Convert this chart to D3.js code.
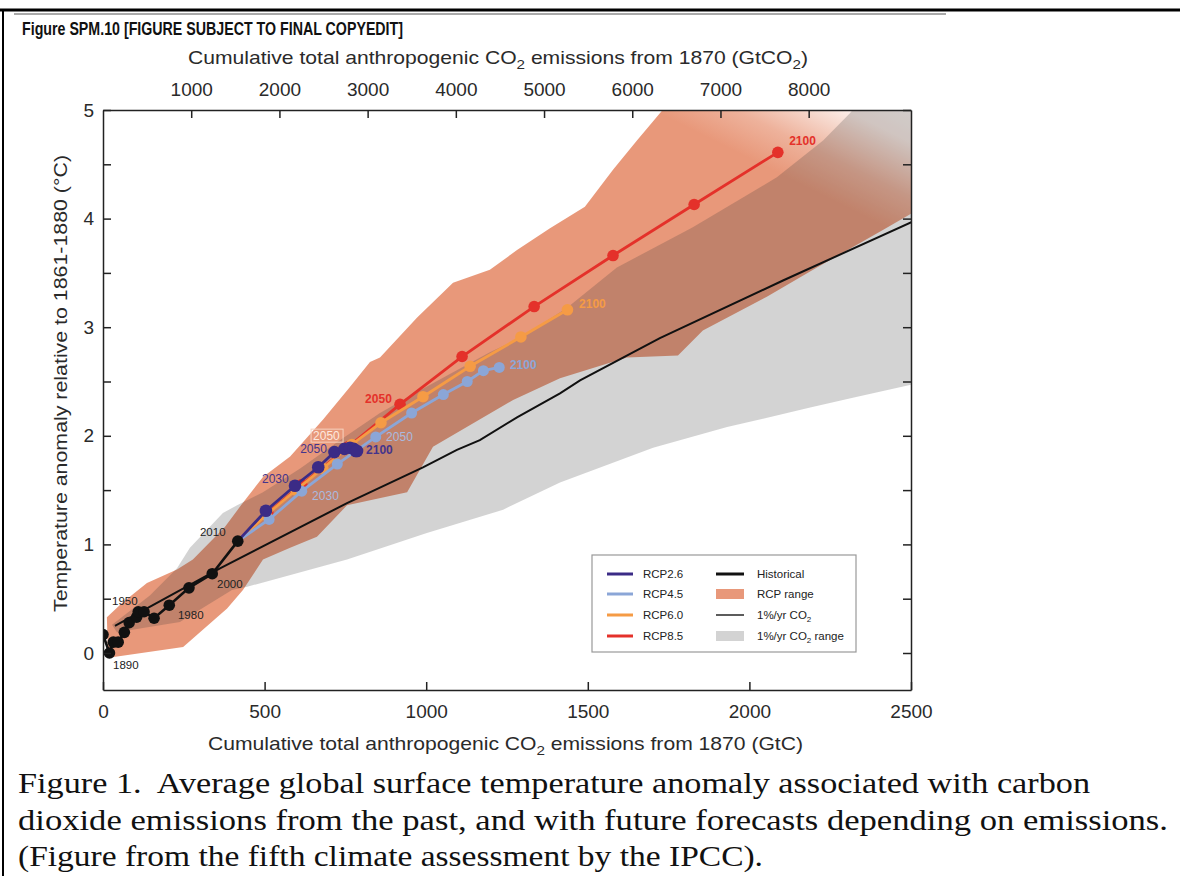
<!DOCTYPE html>
<html>
<head>
<meta charset="utf-8">
<script src="https://cdn.jsdelivr.net/npm/d3@7"></script>
<style>
  body { margin: 0; background: #fff; }
  svg { display: block; }
  text { font-family: "Liberation Sans", Arial, sans-serif; }
</style>
</head>
<body>
<svg id="chart" width="1180" height="876"></svg>
<script>
// ---- data (GtC, degC) ----
const histGtC  = [0, 20, 32, 47, 66, 81, 104, 109, 127, 158, 205, 266, 338, 417];
const histTemp = [0.17, 0.0, 0.10, 0.10, 0.19, 0.28, 0.33, 0.38, 0.38, 0.32, 0.44, 0.60, 0.73, 1.03];

const rcpYears  = [2010, 2020, 2030, 2040, 2050, 2060, 2070, 2080, 2090, 2100];
const rcp26GtC  = [417, 504, 594, 666, 716, 747, 764, 776, 782, 786];
const rcp26Temp = [1.03, 1.31, 1.54, 1.71, 1.85, 1.88, 1.89, 1.88, 1.86, 1.86];
const rcp45GtC  = [417, 514, 615, 725, 844, 955, 1053, 1127, 1177, 1226];
const rcp45Temp = [1.03, 1.23, 1.49, 1.74, 1.99, 2.21, 2.38, 2.50, 2.60, 2.63];
const rcp60GtC  = [417, 505, 597, 680, 770, 860, 990, 1136, 1293, 1437];
const rcp60Temp = [1.03, 1.27, 1.50, 1.70, 1.92, 2.12, 2.36, 2.64, 2.91, 3.16];
const rcp85GtC  = [417, 510, 615, 760, 919, 1111, 1334, 1578, 1829, 2088];
const rcp85Temp = [1.03, 1.29, 1.55, 1.90, 2.29, 2.73, 3.19, 3.66, 4.13, 4.61];

const onePctGtC  = [37, 362, 755, 990, 1095, 1166, 1281, 1414, 1476, 1723, 2104, 2503];
const onePctTemp = [0.25, 0.78, 1.38, 1.71, 1.87, 1.96, 2.17, 2.39, 2.51, 2.90, 3.43, 3.97];

// envelopes as [GtC, degC] pairs, upper edge left->right, lower edge left->right
const rcpRangeUpper = [[12,0.33],[59,0.46],[136,0.645],[229,0.77],[278,0.86],[377,1.16],[427,1.36],
  [495,1.62],[579,1.81],[681,2.15],[764,2.45],[826,2.68],[857,2.72],[972,3.09],[1083,3.41],
  [1197,3.53],[1281,3.71],[1383,3.91],[1491,4.11],[1578,4.45],[1652,4.72],[1723,4.97],
  [1816,5.3],[2700,5.3]];
const rcpRangeLower = [[15,0.0],[28,-0.04],[248,0.055],[384,0.41],[433,0.58],[495,0.86],[579,0.97],
  [662,1.07],[755,1.36],[941,1.48],[1021,1.90],[1269,2.33],[1414,2.53],[1621,2.72],[1779,2.74],
  [1856,2.97],[2054,3.28],[2209,3.55],[2413,3.895],[2503,4.05],[2700,4.30]];
const onePctRangeUpper = [[28,0.26],[145,0.53],[229,0.78],[269,0.97],[371,1.29],[415,1.36],
  [495,1.48],[610,1.70],[733,1.96],[857,2.21],[981,2.42],[1197,2.77],[1290,2.90],[1436,3.18],
  [1590,3.55],[1825,3.92],[2085,4.38],[2228,4.72],[2311,4.97],[2404,5.3],[2700,5.3]];
const onePctRangeLower = [[43,0.19],[238,0.285],[399,0.58],[446,0.61],[755,0.86],[1002,1.105],
  [1238,1.32],[1414,1.57],[1702,1.89],[1931,2.08],[2188,2.26],[2320,2.35],[2500,2.47],[2700,2.60]];

// tick labels
const gtcTicks   = [0, 500, 1000, 1500, 2000, 2500];
const gtco2Ticks = [1000, 2000, 3000, 4000, 5000, 6000, 7000, 8000];
const tempTicks  = [0, 0.5, 1, 1.5, 2, 2.5, 3, 3.5, 4, 4.5, 5];

// year annotations
const histLabelText = ["1890", "1950", "1980", "2000", "2010"];
const histLabelGtC  = [31, 28, 232, 353, 300];
const histLabelTemp = [-0.147, 0.44, 0.31, 0.60, 1.08];

const rcpLabelText   = ["2030", "2050", "2100", "2050", "2030", "2050", "2100", "2100", "2050", "2100"];
const rcpLabelSeries = ["RCP2.6", "RCP2.6", "RCP2.6", "RCP6.0", "RCP4.5", "RCP4.5", "RCP4.5", "RCP6.0", "RCP8.5", "RCP8.5"];
const rcpLabelGtC    = [492, 610, 814, 650, 647, 876, 1259, 1473, 811, 2123];
const rcpLabelTemp   = [1.565, 1.84, 1.83, 1.96, 1.41, 1.95, 2.615, 3.18, 2.30, 4.68];

const legendLeft  = ["RCP2.6", "RCP4.5", "RCP6.0", "RCP8.5"];
const legendRight = ["Historical", "RCP range", "1%/yr CO", "1%/yr CO"];

// ---- setup ----
const svg = d3.select("#chart");
const colors = { "RCP2.6": "#3b2b86", "RCP4.5": "#8ba6d7", "RCP6.0": "#f59b45", "RCP8.5": "#e4312a" };

const x = d3.scaleLinear().domain([0, 2500]).range([103, 911]);
const xCO2 = d3.scaleLinear().domain([0, 2500 * 3.664]).range([103, 911]);
const y = d3.scaleLinear().domain([-0.3407, 5]).range([690, 110]);

const defs = svg.append("defs");
defs.append("clipPath").attr("id", "plotClip").append("rect")
  .attr("x", 103).attr("y", 110).attr("width", 808).attr("height", 580);
const fade = defs.append("linearGradient").attr("id", "rcpFade")
  .attr("gradientUnits", "userSpaceOnUse")
  .attr("x1", 690).attr("y1", 280).attr("x2", 800).attr("y2", 60);
[[0, 1], [0.55, 1], [0.7, 0.75], [0.9, 0.18], [1, 0.1]].forEach(s => {
  fade.append("stop").attr("offset", s[0]).attr("stop-color", "#e8987a").attr("stop-opacity", s[1]);
});

// page frame
svg.append("line").attr("x1", 0).attr("x2", 1180).attr("y1", 10).attr("y2", 10)
  .attr("stroke", "#000").attr("stroke-width", 3);
svg.append("line").attr("x1", 14).attr("x2", 946).attr("y1", 14).attr("y2", 14)
  .attr("stroke", "#555").attr("stroke-width", 1.2);
svg.append("line").attr("x1", 3).attr("x2", 3).attr("y1", 9).attr("y2", 876)
  .attr("stroke", "#000").attr("stroke-width", 2);

svg.append("text").attr("x", 22).attr("y", 35)
  .attr("font-size", 18.5).attr("font-weight", "bold").attr("fill", "#111")
  .attr("textLength", 381).attr("lengthAdjust", "spacingAndGlyphs")
  .text("Figure SPM.10 [FIGURE SUBJECT TO FINAL COPYEDIT]");

// ---- shaded ranges ----
const poly = d3.line().x(d => x(d[0])).y(d => y(d[1]));
const plot = svg.append("g").attr("clip-path", "url(#plotClip)");

plot.append("path")
  .attr("d", poly(rcpRangeUpper.concat(rcpRangeLower.slice().reverse())) + "Z")
  .attr("fill", "url(#rcpFade)");
plot.append("path")
  .attr("d", poly(onePctRangeUpper.concat(onePctRangeLower.slice().reverse())) + "Z")
  .attr("fill", "#373737").attr("fill-opacity", 0.22);

// ---- lines ----
const line = d3.line().x(d => x(d[0])).y(d => y(d[1]));
const zipped = (a, b) => a.map((v, i) => [v, b[i]]);

plot.append("path").attr("d", line(zipped(onePctGtC, onePctTemp)))
  .attr("fill", "none").attr("stroke", "#111").attr("stroke-width", 2);

const scenarios = [
  { name: "RCP8.5", gtc: rcp85GtC, temp: rcp85Temp, r: 5.8 },
  { name: "RCP6.0", gtc: rcp60GtC, temp: rcp60Temp, r: 5.8 },
  { name: "RCP4.5", gtc: rcp45GtC, temp: rcp45Temp, r: 5.5 },
  { name: "RCP2.6", gtc: rcp26GtC, temp: rcp26Temp, r: 6.3 }
];
scenarios.forEach(s => {
  const pts = zipped(s.gtc, s.temp);
  plot.append("path").attr("d", line(pts))
    .attr("fill", "none").attr("stroke", colors[s.name]).attr("stroke-width", 2.8);
  plot.selectAll(null).data(pts.slice(1)).join("circle")
    .attr("cx", d => x(d[0])).attr("cy", d => y(d[1])).attr("r", s.r)
    .attr("fill", colors[s.name]);
});

const hist = zipped(histGtC, histTemp);
plot.append("path").attr("d", line(hist))
  .attr("fill", "none").attr("stroke", "#111").attr("stroke-width", 2.6);
plot.selectAll(null).data(hist).join("circle")
  .attr("cx", d => x(d[0])).attr("cy", d => y(d[1])).attr("r", 5.8)
  .attr("fill", "#111");

// ---- year labels ----
svg.selectAll(null).data(histLabelText).join("text")
  .attr("x", (d, i) => x(histLabelGtC[i])).attr("y", (d, i) => y(histLabelTemp[i]))
  .attr("font-size", 11.5).attr("fill", "#222").text(d => d);

const labelFill = (s, t) => {
  if (s === "RCP6.0" && t === "2050") return "#fde9df";
  if (s === "RCP4.5" && t !== "2100") return "#a9badf";
  if (s === "RCP2.6") return "#44348c";
  return colors[s];
};
rcpLabelText.forEach((t, i) => {
  const s = rcpLabelSeries[i];
  const px = x(rcpLabelGtC[i]), py = y(rcpLabelTemp[i]);
  if (s === "RCP6.0" && t === "2050") {
    svg.append("rect").attr("x", px - 2).attr("y", py - 11).attr("width", 32).attr("height", 13)
      .attr("fill", "none").attr("stroke", "#f6d2c0").attr("stroke-width", 1);
  }
  svg.append("text").attr("x", px).attr("y", py)
    .attr("font-size", 12)
    .attr("font-weight", (t === "2100" || s === "RCP8.5") ? "bold" : "normal")
    .attr("fill", labelFill(s, t)).text(t);
});

// ---- axes ----
const styleAxis = g => {
  g.select(".domain").attr("stroke", "#222").attr("stroke-width", 1.5);
  g.selectAll(".tick line").attr("stroke", "#222").attr("stroke-width", 1.5);
  g.selectAll(".tick text").attr("fill", "#2a2a2a")
    .style("font-family", "'Liberation Sans', Arial, sans-serif").style("font-size", "19px");
};
const plain = d3.format("d");

svg.append("g").attr("transform", "translate(0,690)")
  .call(d3.axisBottom(x).tickValues(gtcTicks).tickSize(-8).tickSizeOuter(0).tickPadding(15).tickFormat(plain))
  .call(styleAxis);
svg.append("g").attr("transform", "translate(0,110)")
  .call(d3.axisTop(xCO2).tickValues(gtco2Ticks).tickSize(-8).tickSizeOuter(0).tickPadding(14).tickFormat(plain))
  .call(styleAxis);
svg.append("g").attr("transform", "translate(103,0)")
  .call(d3.axisLeft(y).tickValues(tempTicks).tickSize(-8).tickSizeOuter(0).tickPadding(9)
    .tickFormat(d => Number.isInteger(d) ? d : ""))
  .call(styleAxis);
svg.append("g").attr("transform", "translate(911,0)")
  .call(d3.axisRight(y).tickValues(tempTicks).tickSize(-8).tickSizeOuter(0).tickFormat(""))
  .call(styleAxis);

// axis titles; "2" parts are drawn as subscripts
const subText = (sel, parts) => {
  let shift = 0;
  parts.forEach(p => {
    if (p === "2") {
      sel.append("tspan").attr("dy", 5 - shift).attr("font-size", "0.72em").text("2");
      shift = 5;
    } else {
      sel.append("tspan").attr("dy", -shift).text(p);
      shift = 0;
    }
  });
};
const topTitle = svg.append("text").attr("x", 188).attr("y", 64)
  .attr("font-size", 19).attr("fill", "#2a2a2a")
  .attr("textLength", 620).attr("lengthAdjust", "spacingAndGlyphs");
subText(topTitle, ["Cumulative total anthropogenic CO", "2", " emissions from 1870 (GtCO", "2", ")"]);

const botTitle = svg.append("text").attr("x", 208).attr("y", 750)
  .attr("font-size", 19).attr("fill", "#2a2a2a")
  .attr("textLength", 595).attr("lengthAdjust", "spacingAndGlyphs");
subText(botTitle, ["Cumulative total anthropogenic CO", "2", " emissions from 1870 (GtC)"]);

svg.append("text").attr("transform", "translate(67,612) rotate(-90)")
  .attr("font-size", 19).attr("fill", "#2a2a2a")
  .attr("textLength", 457).attr("lengthAdjust", "spacingAndGlyphs")
  .text("Temperature anomaly relative to 1861-1880 (°C)");

// ---- legend ----
const lg = svg.append("g");
lg.append("rect").attr("x", 592).attr("y", 555).attr("width", 264).attr("height", 97)
  .attr("fill", "#fff").attr("stroke", "#999").attr("stroke-width", 1.2);
const rowY = [574, 594, 615, 636];
legendLeft.forEach((name, i) => {
  lg.append("line").attr("x1", 607).attr("x2", 633).attr("y1", rowY[i]).attr("y2", rowY[i])
    .attr("stroke", colors[name]).attr("stroke-width", 3);
  lg.append("text").attr("x", 643).attr("y", rowY[i] + 4).attr("font-size", 11.5)
    .attr("fill", "#222").text(name);
});
legendRight.forEach((name, i) => {
  const yy = rowY[i];
  if (i === 0) {
    lg.append("line").attr("x1", 716).attr("x2", 744).attr("y1", yy).attr("y2", yy)
      .attr("stroke", "#111").attr("stroke-width", 3);
  } else if (i === 1) {
    lg.append("rect").attr("x", 716).attr("y", yy - 5).attr("width", 28).attr("height", 10)
      .attr("fill", "#e8987a");
  } else if (i === 2) {
    lg.append("line").attr("x1", 716).attr("x2", 744).attr("y1", yy).attr("y2", yy)
      .attr("stroke", "#333").attr("stroke-width", 1.6);
  } else {
    lg.append("rect").attr("x", 716).attr("y", yy - 5).attr("width", 28).attr("height", 10)
      .attr("fill", "#d3d3d3");
  }
  const t = lg.append("text").attr("x", 757).attr("y", yy + 4).attr("font-size", 11.5).attr("fill", "#222");
  if (i < 2) t.text(name);
  else {
    t.append("tspan").text(name);
    t.append("tspan").attr("dy", 3).attr("font-size", 8).text("2");
    if (i === 3) t.append("tspan").attr("dy", -3).text(" range");
  }
});

// ---- caption ----
const caption = [
  "Figure 1.  Average global surface temperature anomaly associated with carbon",
  "dioxide emissions from the past, and with future forecasts depending on emissions.",
  "(Figure from the fifth climate assessment by the IPCC)."
];
const capWidth = [1072, 1150, 745];
svg.selectAll(null).data(caption).join("text")
  .attr("x", 18).attr("y", (d, i) => 793 + i * 36.5)
  .style("font-family", "'Liberation Serif', 'DejaVu Serif', serif")
  .attr("font-size", 29).attr("fill", "#111")
  .attr("textLength", (d, i) => capWidth[i]).attr("lengthAdjust", "spacingAndGlyphs")
  .style("white-space", "pre")
  .text(d => d);
</script>
</body>
</html>
